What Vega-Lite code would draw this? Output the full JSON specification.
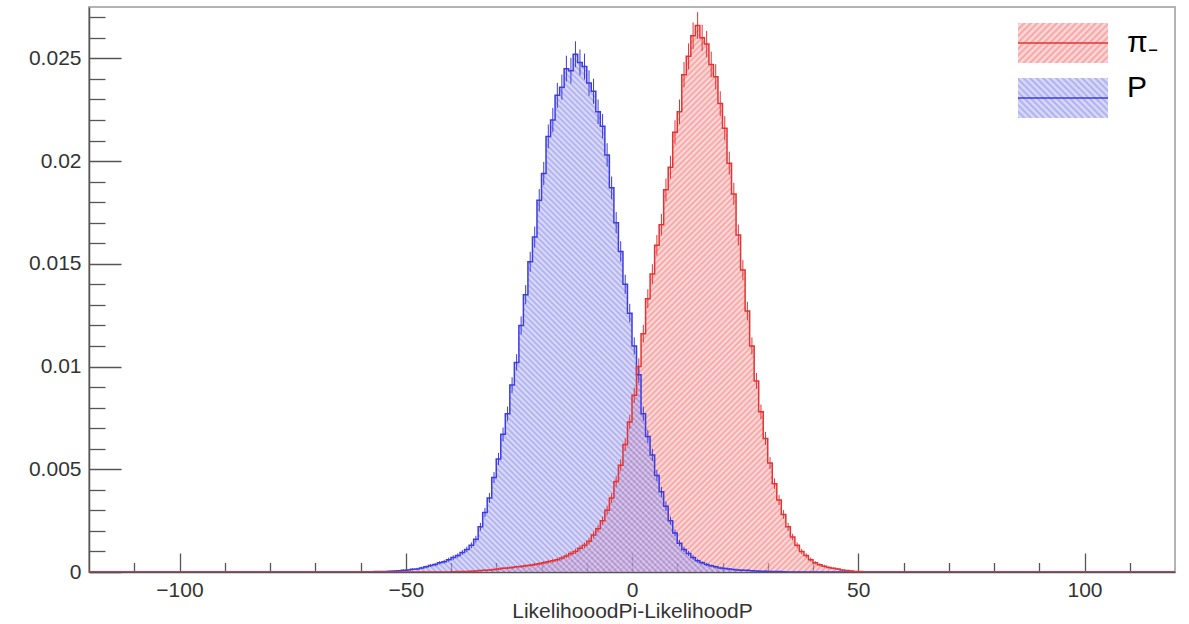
{
  "$schema": "https://vega.github.io/schema/vega-lite/v6.json",
  "width": 1086,
  "height": 565,
  "autosize": {"type": "none"},
  "padding": {"left": 89, "top": 7, "right": 14, "bottom": 52},
  "background": "white",
  "config": {
    "view": {"stroke": "#b4b4b4", "strokeWidth": 2},
    "font": "Liberation Sans"
  },
  "data": {
    "values": [
      {"s":"p","x":-120,"y":0,"e":0},
      {"s":"p","x":-59.5,"y":0,"e":0},
      {"s":"p","x":-58.5,"y":0.00001,"e":0.00001},
      {"s":"p","x":-57.5,"y":0.00001,"e":0.00001},
      {"s":"p","x":-56.5,"y":0.00002,"e":0.00002},
      {"s":"p","x":-55.5,"y":0.00002,"e":0.00002},
      {"s":"p","x":-54.5,"y":0.00003,"e":0.00002},
      {"s":"p","x":-53.5,"y":0.00004,"e":0.00003},
      {"s":"p","x":-52.5,"y":0.00005,"e":0.00003},
      {"s":"p","x":-51.5,"y":0.00006,"e":0.00003},
      {"s":"p","x":-50.5,"y":0.00008,"e":0.00004},
      {"s":"p","x":-49.5,"y":0.0001,"e":0.00004},
      {"s":"p","x":-48.5,"y":0.00013,"e":0.00005},
      {"s":"p","x":-47.5,"y":0.00015,"e":0.00005},
      {"s":"p","x":-46.5,"y":0.0002,"e":0.00006},
      {"s":"p","x":-45.5,"y":0.00025,"e":0.00006},
      {"s":"p","x":-44.5,"y":0.00032,"e":0.00007},
      {"s":"p","x":-43.5,"y":0.00036,"e":0.00008},
      {"s":"p","x":-42.5,"y":0.00045,"e":0.00008},
      {"s":"p","x":-41.5,"y":0.0005,"e":0.00009},
      {"s":"p","x":-40.5,"y":0.0006,"e":0.0001},
      {"s":"p","x":-39.5,"y":0.0007,"e":0.00011},
      {"s":"p","x":-38.5,"y":0.0008,"e":0.00011},
      {"s":"p","x":-37.5,"y":0.00095,"e":0.00012},
      {"s":"p","x":-36.5,"y":0.0011,"e":0.00013},
      {"s":"p","x":-35.5,"y":0.0013,"e":0.00014},
      {"s":"p","x":-34.5,"y":0.0016,"e":0.00016},
      {"s":"p","x":-33.5,"y":0.0022,"e":0.00019},
      {"s":"p","x":-32.5,"y":0.0029,"e":0.00022},
      {"s":"p","x":-31.5,"y":0.0036,"e":0.00024},
      {"s":"p","x":-30.5,"y":0.0046,"e":0.00027},
      {"s":"p","x":-29.5,"y":0.0055,"e":0.0003},
      {"s":"p","x":-28.5,"y":0.0067,"e":0.00033},
      {"s":"p","x":-27.5,"y":0.0077,"e":0.00035},
      {"s":"p","x":-26.5,"y":0.0091,"e":0.00038},
      {"s":"p","x":-25.5,"y":0.0102,"e":0.0004},
      {"s":"p","x":-24.5,"y":0.012,"e":0.00044},
      {"s":"p","x":-23.5,"y":0.0135,"e":0.00046},
      {"s":"p","x":-22.5,"y":0.0151,"e":0.00049},
      {"s":"p","x":-21.5,"y":0.0163,"e":0.00051},
      {"s":"p","x":-20.5,"y":0.0181,"e":0.00054},
      {"s":"p","x":-19.5,"y":0.0194,"e":0.00056},
      {"s":"p","x":-18.5,"y":0.0212,"e":0.00058},
      {"s":"p","x":-17.5,"y":0.022,"e":0.00059},
      {"s":"p","x":-16.5,"y":0.0232,"e":0.00061},
      {"s":"p","x":-15.5,"y":0.0236,"e":0.00061},
      {"s":"p","x":-14.5,"y":0.0245,"e":0.00063},
      {"s":"p","x":-13.5,"y":0.0244,"e":0.00062},
      {"s":"p","x":-12.5,"y":0.0252,"e":0.00063},
      {"s":"p","x":-11.5,"y":0.0248,"e":0.00063},
      {"s":"p","x":-10.5,"y":0.0246,"e":0.00063},
      {"s":"p","x":-9.5,"y":0.0238,"e":0.00062},
      {"s":"p","x":-8.5,"y":0.0234,"e":0.00061},
      {"s":"p","x":-7.5,"y":0.0224,"e":0.0006},
      {"s":"p","x":-6.5,"y":0.0217,"e":0.00059},
      {"s":"p","x":-5.5,"y":0.0203,"e":0.00057},
      {"s":"p","x":-4.5,"y":0.0187,"e":0.00055},
      {"s":"p","x":-3.5,"y":0.017,"e":0.00052},
      {"s":"p","x":-2.5,"y":0.0156,"e":0.0005},
      {"s":"p","x":-1.5,"y":0.014,"e":0.00047},
      {"s":"p","x":-0.5,"y":0.0126,"e":0.00045},
      {"s":"p","x":0.5,"y":0.011,"e":0.00042},
      {"s":"p","x":1.5,"y":0.0096,"e":0.00039},
      {"s":"p","x":2.5,"y":0.0077,"e":0.00035},
      {"s":"p","x":3.5,"y":0.0066,"e":0.00032},
      {"s":"p","x":4.5,"y":0.0057,"e":0.0003},
      {"s":"p","x":5.5,"y":0.0047,"e":0.00027},
      {"s":"p","x":6.5,"y":0.0039,"e":0.00025},
      {"s":"p","x":7.5,"y":0.0032,"e":0.00023},
      {"s":"p","x":8.5,"y":0.0025,"e":0.0002},
      {"s":"p","x":9.5,"y":0.0019,"e":0.00017},
      {"s":"p","x":10.5,"y":0.0014,"e":0.00015},
      {"s":"p","x":11.5,"y":0.0011,"e":0.00013},
      {"s":"p","x":12.5,"y":0.0009,"e":0.00012},
      {"s":"p","x":13.5,"y":0.0007,"e":0.00011},
      {"s":"p","x":14.5,"y":0.00055,"e":0.00009},
      {"s":"p","x":15.5,"y":0.00045,"e":0.00008},
      {"s":"p","x":16.5,"y":0.00037,"e":0.00008},
      {"s":"p","x":17.5,"y":0.0003,"e":0.00007},
      {"s":"p","x":18.5,"y":0.00025,"e":0.00006},
      {"s":"p","x":19.5,"y":0.0002,"e":0.00006},
      {"s":"p","x":20.5,"y":0.00017,"e":0.00005},
      {"s":"p","x":21.5,"y":0.00014,"e":0.00005},
      {"s":"p","x":22.5,"y":0.00012,"e":0.00004},
      {"s":"p","x":23.5,"y":0.0001,"e":0.00004},
      {"s":"p","x":24.5,"y":0.00009,"e":0.00004},
      {"s":"p","x":25.5,"y":0.00008,"e":0.00004},
      {"s":"p","x":26.5,"y":0.00006,"e":0.00003},
      {"s":"p","x":27.5,"y":0.00005,"e":0.00003},
      {"s":"p","x":28.5,"y":0.00004,"e":0.00003},
      {"s":"p","x":29.5,"y":0.00004,"e":0.00003},
      {"s":"p","x":30.5,"y":0.00003,"e":0.00002},
      {"s":"p","x":31.5,"y":0.00002,"e":0.00002},
      {"s":"p","x":32.5,"y":0.00002,"e":0.00002},
      {"s":"p","x":33.5,"y":0.00001,"e":0.00001},
      {"s":"p","x":34.5,"y":0,"e":0},
      {"s":"p","x":120,"y":0,"e":0},

      {"s":"pi","x":-120,"y":0,"e":0},
      {"s":"pi","x":-40.5,"y":0,"e":0},
      {"s":"pi","x":-39.5,"y":0.00001,"e":0.00001},
      {"s":"pi","x":-38.5,"y":0.00002,"e":0.00002},
      {"s":"pi","x":-37.5,"y":0.00002,"e":0.00002},
      {"s":"pi","x":-36.5,"y":0.00003,"e":0.00002},
      {"s":"pi","x":-35.5,"y":0.00004,"e":0.00003},
      {"s":"pi","x":-34.5,"y":0.00005,"e":0.00003},
      {"s":"pi","x":-33.5,"y":0.00007,"e":0.00003},
      {"s":"pi","x":-32.5,"y":0.00009,"e":0.00004},
      {"s":"pi","x":-31.5,"y":0.0001,"e":0.00004},
      {"s":"pi","x":-30.5,"y":0.00012,"e":0.00004},
      {"s":"pi","x":-29.5,"y":0.00015,"e":0.00005},
      {"s":"pi","x":-28.5,"y":0.00018,"e":0.00005},
      {"s":"pi","x":-27.5,"y":0.0002,"e":0.00006},
      {"s":"pi","x":-26.5,"y":0.00022,"e":0.00006},
      {"s":"pi","x":-25.5,"y":0.00025,"e":0.00006},
      {"s":"pi","x":-24.5,"y":0.00027,"e":0.00007},
      {"s":"pi","x":-23.5,"y":0.0003,"e":0.00007},
      {"s":"pi","x":-22.5,"y":0.00033,"e":0.00007},
      {"s":"pi","x":-21.5,"y":0.00037,"e":0.00008},
      {"s":"pi","x":-20.5,"y":0.0004,"e":0.00008},
      {"s":"pi","x":-19.5,"y":0.00045,"e":0.00008},
      {"s":"pi","x":-18.5,"y":0.0005,"e":0.00009},
      {"s":"pi","x":-17.5,"y":0.00055,"e":0.00009},
      {"s":"pi","x":-16.5,"y":0.0006,"e":0.0001},
      {"s":"pi","x":-15.5,"y":0.00068,"e":0.0001},
      {"s":"pi","x":-14.5,"y":0.00078,"e":0.00011},
      {"s":"pi","x":-13.5,"y":0.0009,"e":0.00012},
      {"s":"pi","x":-12.5,"y":0.001,"e":0.00013},
      {"s":"pi","x":-11.5,"y":0.00115,"e":0.00014},
      {"s":"pi","x":-10.5,"y":0.0013,"e":0.00014},
      {"s":"pi","x":-9.5,"y":0.0015,"e":0.00015},
      {"s":"pi","x":-8.5,"y":0.0018,"e":0.00017},
      {"s":"pi","x":-7.5,"y":0.0021,"e":0.00018},
      {"s":"pi","x":-6.5,"y":0.0025,"e":0.0002},
      {"s":"pi","x":-5.5,"y":0.003,"e":0.00022},
      {"s":"pi","x":-4.5,"y":0.0036,"e":0.00024},
      {"s":"pi","x":-3.5,"y":0.0044,"e":0.00027},
      {"s":"pi","x":-2.5,"y":0.0052,"e":0.00029},
      {"s":"pi","x":-1.5,"y":0.0062,"e":0.00031},
      {"s":"pi","x":-0.5,"y":0.0073,"e":0.00034},
      {"s":"pi","x":0.5,"y":0.0086,"e":0.00037},
      {"s":"pi","x":1.5,"y":0.01,"e":0.0004},
      {"s":"pi","x":2.5,"y":0.0116,"e":0.00043},
      {"s":"pi","x":3.5,"y":0.0133,"e":0.00046},
      {"s":"pi","x":4.5,"y":0.0145,"e":0.00048},
      {"s":"pi","x":5.5,"y":0.0159,"e":0.0005},
      {"s":"pi","x":6.5,"y":0.0169,"e":0.00052},
      {"s":"pi","x":7.5,"y":0.0186,"e":0.00055},
      {"s":"pi","x":8.5,"y":0.0197,"e":0.00056},
      {"s":"pi","x":9.5,"y":0.0214,"e":0.00059},
      {"s":"pi","x":10.5,"y":0.0224,"e":0.0006},
      {"s":"pi","x":11.5,"y":0.0242,"e":0.00062},
      {"s":"pi","x":12.5,"y":0.0251,"e":0.00063},
      {"s":"pi","x":13.5,"y":0.0261,"e":0.00065},
      {"s":"pi","x":14.5,"y":0.0266,"e":0.00065},
      {"s":"pi","x":15.5,"y":0.026,"e":0.00064},
      {"s":"pi","x":16.5,"y":0.0257,"e":0.00064},
      {"s":"pi","x":17.5,"y":0.0247,"e":0.00063},
      {"s":"pi","x":18.5,"y":0.0241,"e":0.00062},
      {"s":"pi","x":19.5,"y":0.0228,"e":0.0006},
      {"s":"pi","x":20.5,"y":0.0216,"e":0.00059},
      {"s":"pi","x":21.5,"y":0.0199,"e":0.00056},
      {"s":"pi","x":22.5,"y":0.0184,"e":0.00054},
      {"s":"pi","x":23.5,"y":0.0164,"e":0.00051},
      {"s":"pi","x":24.5,"y":0.0147,"e":0.00048},
      {"s":"pi","x":25.5,"y":0.0127,"e":0.00045},
      {"s":"pi","x":26.5,"y":0.011,"e":0.00042},
      {"s":"pi","x":27.5,"y":0.0093,"e":0.00039},
      {"s":"pi","x":28.5,"y":0.0078,"e":0.00035},
      {"s":"pi","x":29.5,"y":0.0065,"e":0.00032},
      {"s":"pi","x":30.5,"y":0.0053,"e":0.00029},
      {"s":"pi","x":31.5,"y":0.0043,"e":0.00026},
      {"s":"pi","x":32.5,"y":0.0035,"e":0.00024},
      {"s":"pi","x":33.5,"y":0.0028,"e":0.00021},
      {"s":"pi","x":34.5,"y":0.0022,"e":0.00019},
      {"s":"pi","x":35.5,"y":0.0017,"e":0.00016},
      {"s":"pi","x":36.5,"y":0.0013,"e":0.00014},
      {"s":"pi","x":37.5,"y":0.001,"e":0.00013},
      {"s":"pi","x":38.5,"y":0.0008,"e":0.00011},
      {"s":"pi","x":39.5,"y":0.0006,"e":0.0001},
      {"s":"pi","x":40.5,"y":0.00045,"e":0.00008},
      {"s":"pi","x":41.5,"y":0.00035,"e":0.00007},
      {"s":"pi","x":42.5,"y":0.00028,"e":0.00007},
      {"s":"pi","x":43.5,"y":0.00022,"e":0.00006},
      {"s":"pi","x":44.5,"y":0.00018,"e":0.00005},
      {"s":"pi","x":45.5,"y":0.00015,"e":0.00005},
      {"s":"pi","x":46.5,"y":0.0001,"e":0.00004},
      {"s":"pi","x":47.5,"y":0.00007,"e":0.00003},
      {"s":"pi","x":48.5,"y":0.00005,"e":0.00003},
      {"s":"pi","x":49.5,"y":0.00003,"e":0.00002},
      {"s":"pi","x":50.5,"y":0.00002,"e":0.00002},
      {"s":"pi","x":51.5,"y":0,"e":0},
      {"s":"pi","x":120,"y":0,"e":0}
    ]
  },
  "encoding": {
    "x": {
      "field": "x", "type": "quantitative",
      "scale": {"domain": [-120, 120], "nice": false, "zero": false},
      "axis": {
        "values": [-110,-100,-90,-80,-70,-60,-50,-40,-30,-20,-10,0,10,20,30,40,50,60,70,80,90,100,110],
        "labelExpr": "datum.value % 50 === 0 ? format(datum.value, 'd') : ''",
        "ticks": true,
        "tickSize": {"condition": {"test": "datum.value % 50 === 0", "value": -19}, "value": -9.5},
        "labelPadding": 26,
        "labelFont": "Liberation Sans", "labelFontSize": 21, "labelColor": "#333333",
        "labelOverlap": false, "labelFlush": false, "labelBound": false,
        "domainColor": "#555555", "domainWidth": 1.5, "tickColor": "#555555", "tickWidth": 1.3,
        "grid": false,
        "title": "LikelihooodPi-LikelihoodP",
        "titleFont": "Liberation Sans", "titleFontSize": 21, "titleFontWeight": "normal", "titleColor": "#333333", "titlePadding": -9
      }
    },
    "y": {
      "field": "y", "type": "quantitative",
      "scale": {"domain": [0, 0.0275], "nice": false},
      "axis": {
        "values": [0,0.001,0.002,0.003,0.004,0.005,0.006,0.007,0.008,0.009,0.01,0.011,0.012,0.013,0.014,0.015,0.016,0.017,0.018,0.019,0.02,0.021,0.022,0.023,0.024,0.025,0.026,0.027],
        "labelExpr": "round(datum.value * 1000) % 5 === 0 ? format(datum.value, '~g') : ''",
        "ticks": true,
        "tickSize": {"condition": {"test": "round(datum.value * 1000) % 5 === 0", "value": -32}, "value": -16},
        "labelPadding": 40,
        "labelFont": "Liberation Sans", "labelFontSize": 21, "labelColor": "#333333",
        "labelOverlap": false, "labelFlush": false, "labelBound": false,
        "domainColor": "#555555", "domainWidth": 1.5, "tickColor": "#555555", "tickWidth": 1.3,
        "grid": false, "title": null
      }
    }
  },
  "layer": [
    {
      "transform": [{"filter": "datum.s === 'pi' && abs(datum.x) < 100"}],
      "mark": {
        "type": "area", "interpolate": "step", "clip": true, "opacity": 1, "fillOpacity": 0.6,
        "fill": {
          "gradient": "linear", "x1": 0, "y1": 0, "x2": 0.85, "y2": 1.115,
          "stops": [
            {"offset":0,"color":"#e66"},{"offset":0.003,"color":"#fcc"},{"offset":0.006,"color":"#e66"},{"offset":0.009,"color":"#fcc"},{"offset":0.012,"color":"#e66"},{"offset":0.015,"color":"#fcc"},{"offset":0.018,"color":"#e66"},{"offset":0.021,"color":"#fcc"},{"offset":0.024,"color":"#e66"},{"offset":0.027,"color":"#fcc"},
            {"offset":0.03,"color":"#e66"},{"offset":0.033,"color":"#fcc"},{"offset":0.036,"color":"#e66"},{"offset":0.039,"color":"#fcc"},{"offset":0.042,"color":"#e66"},{"offset":0.045,"color":"#fcc"},{"offset":0.048,"color":"#e66"},{"offset":0.051,"color":"#fcc"},{"offset":0.054,"color":"#e66"},{"offset":0.057,"color":"#fcc"},
            {"offset":0.06,"color":"#e66"},{"offset":0.063,"color":"#fcc"},{"offset":0.066,"color":"#e66"},{"offset":0.069,"color":"#fcc"},{"offset":0.072,"color":"#e66"},{"offset":0.075,"color":"#fcc"},{"offset":0.078,"color":"#e66"},{"offset":0.081,"color":"#fcc"},{"offset":0.084,"color":"#e66"},{"offset":0.087,"color":"#fcc"},
            {"offset":0.09,"color":"#e66"},{"offset":0.093,"color":"#fcc"},{"offset":0.096,"color":"#e66"},{"offset":0.099,"color":"#fcc"},{"offset":0.102,"color":"#e66"},{"offset":0.105,"color":"#fcc"},{"offset":0.108,"color":"#e66"},{"offset":0.111,"color":"#fcc"},{"offset":0.114,"color":"#e66"},{"offset":0.117,"color":"#fcc"},
            {"offset":0.12,"color":"#e66"},{"offset":0.123,"color":"#fcc"},{"offset":0.126,"color":"#e66"},{"offset":0.129,"color":"#fcc"},{"offset":0.132,"color":"#e66"},{"offset":0.135,"color":"#fcc"},{"offset":0.138,"color":"#e66"},{"offset":0.141,"color":"#fcc"},{"offset":0.144,"color":"#e66"},{"offset":0.147,"color":"#fcc"},
            {"offset":0.15,"color":"#e66"},{"offset":0.153,"color":"#fcc"},{"offset":0.156,"color":"#e66"},{"offset":0.159,"color":"#fcc"},{"offset":0.162,"color":"#e66"},{"offset":0.165,"color":"#fcc"},{"offset":0.168,"color":"#e66"},{"offset":0.171,"color":"#fcc"},{"offset":0.174,"color":"#e66"},{"offset":0.177,"color":"#fcc"},
            {"offset":0.18,"color":"#e66"},{"offset":0.183,"color":"#fcc"},{"offset":0.186,"color":"#e66"},{"offset":0.189,"color":"#fcc"},{"offset":0.192,"color":"#e66"},{"offset":0.195,"color":"#fcc"},{"offset":0.198,"color":"#e66"},{"offset":0.201,"color":"#fcc"},{"offset":0.204,"color":"#e66"},{"offset":0.207,"color":"#fcc"},
            {"offset":0.21,"color":"#e66"},{"offset":0.213,"color":"#fcc"},{"offset":0.216,"color":"#e66"},{"offset":0.219,"color":"#fcc"},{"offset":0.222,"color":"#e66"},{"offset":0.225,"color":"#fcc"},{"offset":0.228,"color":"#e66"},{"offset":0.231,"color":"#fcc"},{"offset":0.234,"color":"#e66"},{"offset":0.237,"color":"#fcc"},
            {"offset":0.24,"color":"#e66"},{"offset":0.243,"color":"#fcc"},{"offset":0.246,"color":"#e66"},{"offset":0.249,"color":"#fcc"},{"offset":0.252,"color":"#e66"},{"offset":0.255,"color":"#fcc"},{"offset":0.258,"color":"#e66"},{"offset":0.261,"color":"#fcc"},{"offset":0.264,"color":"#e66"},{"offset":0.267,"color":"#fcc"},
            {"offset":0.27,"color":"#e66"},{"offset":0.273,"color":"#fcc"},{"offset":0.276,"color":"#e66"},{"offset":0.279,"color":"#fcc"},{"offset":0.282,"color":"#e66"},{"offset":0.285,"color":"#fcc"},{"offset":0.288,"color":"#e66"},{"offset":0.291,"color":"#fcc"},{"offset":0.294,"color":"#e66"},{"offset":0.297,"color":"#fcc"},
            {"offset":0.3,"color":"#e66"},{"offset":0.303,"color":"#fcc"},{"offset":0.306,"color":"#e66"},{"offset":0.309,"color":"#fcc"},{"offset":0.312,"color":"#e66"},{"offset":0.315,"color":"#fcc"},{"offset":0.318,"color":"#e66"},{"offset":0.321,"color":"#fcc"},{"offset":0.324,"color":"#e66"},{"offset":0.327,"color":"#fcc"},
            {"offset":0.33,"color":"#e66"},{"offset":0.333,"color":"#fcc"},{"offset":0.336,"color":"#e66"},{"offset":0.339,"color":"#fcc"},{"offset":0.342,"color":"#e66"},{"offset":0.345,"color":"#fcc"},{"offset":0.348,"color":"#e66"},{"offset":0.351,"color":"#fcc"},{"offset":0.354,"color":"#e66"},{"offset":0.357,"color":"#fcc"},
            {"offset":0.36,"color":"#e66"},{"offset":0.363,"color":"#fcc"},{"offset":0.366,"color":"#e66"},{"offset":0.369,"color":"#fcc"},{"offset":0.372,"color":"#e66"},{"offset":0.375,"color":"#fcc"},{"offset":0.378,"color":"#e66"},{"offset":0.381,"color":"#fcc"},{"offset":0.384,"color":"#e66"},{"offset":0.387,"color":"#fcc"},
            {"offset":0.39,"color":"#e66"},{"offset":0.393,"color":"#fcc"},{"offset":0.396,"color":"#e66"},{"offset":0.399,"color":"#fcc"},{"offset":0.402,"color":"#e66"},{"offset":0.405,"color":"#fcc"},{"offset":0.408,"color":"#e66"},{"offset":0.411,"color":"#fcc"},{"offset":0.414,"color":"#e66"},{"offset":0.417,"color":"#fcc"},
            {"offset":0.42,"color":"#e66"},{"offset":0.423,"color":"#fcc"},{"offset":0.426,"color":"#e66"},{"offset":0.429,"color":"#fcc"},{"offset":0.432,"color":"#e66"},{"offset":0.435,"color":"#fcc"},{"offset":0.438,"color":"#e66"},{"offset":0.441,"color":"#fcc"},{"offset":0.444,"color":"#e66"},{"offset":0.447,"color":"#fcc"},
            {"offset":0.45,"color":"#e66"},{"offset":0.453,"color":"#fcc"},{"offset":0.456,"color":"#e66"},{"offset":0.459,"color":"#fcc"},{"offset":0.462,"color":"#e66"},{"offset":0.465,"color":"#fcc"},{"offset":0.468,"color":"#e66"},{"offset":0.471,"color":"#fcc"},{"offset":0.474,"color":"#e66"},{"offset":0.477,"color":"#fcc"},
            {"offset":0.48,"color":"#e66"},{"offset":0.483,"color":"#fcc"},{"offset":0.486,"color":"#e66"},{"offset":0.489,"color":"#fcc"},{"offset":0.492,"color":"#e66"},{"offset":0.495,"color":"#fcc"},{"offset":0.498,"color":"#e66"},{"offset":0.501,"color":"#fcc"},{"offset":0.504,"color":"#e66"},{"offset":0.507,"color":"#fcc"},
            {"offset":0.51,"color":"#e66"},{"offset":0.513,"color":"#fcc"},{"offset":0.516,"color":"#e66"},{"offset":0.519,"color":"#fcc"},{"offset":0.522,"color":"#e66"},{"offset":0.525,"color":"#fcc"},{"offset":0.528,"color":"#e66"},{"offset":0.531,"color":"#fcc"},{"offset":0.534,"color":"#e66"},{"offset":0.537,"color":"#fcc"},
            {"offset":0.54,"color":"#e66"},{"offset":0.543,"color":"#fcc"},{"offset":0.546,"color":"#e66"},{"offset":0.549,"color":"#fcc"},{"offset":0.552,"color":"#e66"},{"offset":0.555,"color":"#fcc"},{"offset":0.558,"color":"#e66"},{"offset":0.561,"color":"#fcc"},{"offset":0.564,"color":"#e66"},{"offset":0.567,"color":"#fcc"},
            {"offset":0.57,"color":"#e66"},{"offset":0.573,"color":"#fcc"},{"offset":0.576,"color":"#e66"},{"offset":0.579,"color":"#fcc"},{"offset":0.582,"color":"#e66"},{"offset":0.585,"color":"#fcc"},{"offset":0.588,"color":"#e66"},{"offset":0.591,"color":"#fcc"},{"offset":0.594,"color":"#e66"},{"offset":0.597,"color":"#fcc"},
            {"offset":0.6,"color":"#e66"},{"offset":0.603,"color":"#fcc"},{"offset":0.606,"color":"#e66"},{"offset":0.609,"color":"#fcc"},{"offset":0.612,"color":"#e66"},{"offset":0.615,"color":"#fcc"},{"offset":0.618,"color":"#e66"},{"offset":0.621,"color":"#fcc"},{"offset":0.624,"color":"#e66"},{"offset":0.627,"color":"#fcc"},
            {"offset":0.63,"color":"#e66"},{"offset":0.633,"color":"#fcc"},{"offset":0.636,"color":"#e66"},{"offset":0.639,"color":"#fcc"},{"offset":0.642,"color":"#e66"},{"offset":0.645,"color":"#fcc"},{"offset":0.648,"color":"#e66"},{"offset":0.651,"color":"#fcc"},{"offset":0.654,"color":"#e66"},{"offset":0.657,"color":"#fcc"},
            {"offset":0.66,"color":"#e66"},{"offset":0.663,"color":"#fcc"},{"offset":0.666,"color":"#e66"},{"offset":0.669,"color":"#fcc"},{"offset":0.672,"color":"#e66"},{"offset":0.675,"color":"#fcc"},{"offset":0.678,"color":"#e66"},{"offset":0.681,"color":"#fcc"},{"offset":0.684,"color":"#e66"},{"offset":0.687,"color":"#fcc"},
            {"offset":0.69,"color":"#e66"},{"offset":0.693,"color":"#fcc"},{"offset":0.696,"color":"#e66"},{"offset":0.699,"color":"#fcc"},{"offset":0.702,"color":"#e66"},{"offset":0.705,"color":"#fcc"},{"offset":0.708,"color":"#e66"},{"offset":0.711,"color":"#fcc"},{"offset":0.714,"color":"#e66"},{"offset":0.717,"color":"#fcc"},
            {"offset":0.72,"color":"#e66"},{"offset":0.723,"color":"#fcc"},{"offset":0.726,"color":"#e66"},{"offset":0.729,"color":"#fcc"},{"offset":0.732,"color":"#e66"},{"offset":0.735,"color":"#fcc"},{"offset":0.738,"color":"#e66"},{"offset":0.741,"color":"#fcc"},{"offset":0.744,"color":"#e66"},{"offset":0.747,"color":"#fcc"},
            {"offset":0.75,"color":"#e66"},{"offset":0.753,"color":"#fcc"},{"offset":0.756,"color":"#e66"},{"offset":0.759,"color":"#fcc"},{"offset":0.762,"color":"#e66"},{"offset":0.765,"color":"#fcc"},{"offset":0.768,"color":"#e66"},{"offset":0.771,"color":"#fcc"},{"offset":0.774,"color":"#e66"},{"offset":0.777,"color":"#fcc"},
            {"offset":0.78,"color":"#e66"},{"offset":0.783,"color":"#fcc"},{"offset":0.786,"color":"#e66"},{"offset":0.789,"color":"#fcc"},{"offset":0.792,"color":"#e66"},{"offset":0.795,"color":"#fcc"},{"offset":0.798,"color":"#e66"},{"offset":0.801,"color":"#fcc"},{"offset":0.804,"color":"#e66"},{"offset":0.807,"color":"#fcc"},
            {"offset":0.81,"color":"#e66"},{"offset":0.813,"color":"#fcc"},{"offset":0.816,"color":"#e66"},{"offset":0.819,"color":"#fcc"},{"offset":0.822,"color":"#e66"},{"offset":0.825,"color":"#fcc"},{"offset":0.828,"color":"#e66"},{"offset":0.831,"color":"#fcc"},{"offset":0.834,"color":"#e66"},{"offset":0.837,"color":"#fcc"},
            {"offset":0.84,"color":"#e66"},{"offset":0.843,"color":"#fcc"},{"offset":0.846,"color":"#e66"},{"offset":0.849,"color":"#fcc"},{"offset":0.852,"color":"#e66"},{"offset":0.855,"color":"#fcc"},{"offset":0.858,"color":"#e66"},{"offset":0.861,"color":"#fcc"},{"offset":0.864,"color":"#e66"},{"offset":0.867,"color":"#fcc"},
            {"offset":0.87,"color":"#e66"},{"offset":0.873,"color":"#fcc"},{"offset":0.876,"color":"#e66"},{"offset":0.879,"color":"#fcc"},{"offset":0.882,"color":"#e66"},{"offset":0.885,"color":"#fcc"},{"offset":0.888,"color":"#e66"},{"offset":0.891,"color":"#fcc"},{"offset":0.894,"color":"#e66"},{"offset":0.897,"color":"#fcc"},
            {"offset":0.9,"color":"#e66"},{"offset":0.903,"color":"#fcc"},{"offset":0.906,"color":"#e66"},{"offset":0.909,"color":"#fcc"},{"offset":0.912,"color":"#e66"},{"offset":0.915,"color":"#fcc"},{"offset":0.918,"color":"#e66"},{"offset":0.921,"color":"#fcc"},{"offset":0.924,"color":"#e66"},{"offset":0.927,"color":"#fcc"},
            {"offset":0.93,"color":"#e66"},{"offset":0.933,"color":"#fcc"},{"offset":0.936,"color":"#e66"},{"offset":0.939,"color":"#fcc"},{"offset":0.942,"color":"#e66"},{"offset":0.945,"color":"#fcc"},{"offset":0.948,"color":"#e66"},{"offset":0.951,"color":"#fcc"},{"offset":0.954,"color":"#e66"},{"offset":0.957,"color":"#fcc"},
            {"offset":0.96,"color":"#e66"},{"offset":0.963,"color":"#fcc"},{"offset":0.966,"color":"#e66"},{"offset":0.969,"color":"#fcc"},{"offset":0.972,"color":"#e66"},{"offset":0.975,"color":"#fcc"},{"offset":0.978,"color":"#e66"},{"offset":0.981,"color":"#fcc"},{"offset":0.984,"color":"#e66"},{"offset":0.987,"color":"#fcc"},
            {"offset":0.99,"color":"#e66"},{"offset":0.993,"color":"#fcc"},{"offset":0.996,"color":"#e66"},{"offset":0.999,"color":"#fcc"},{"offset":1,"color":"#e66"}
          ]
        }
      }
    },
    {
      "transform": [{"filter": "datum.s === 'p' && abs(datum.x) < 100"}],
      "mark": {
        "type": "area", "interpolate": "step", "clip": true, "opacity": 1, "fillOpacity": 0.6,
        "fill": {
          "gradient": "linear", "x1": 0, "y1": 1, "x2": 0.894, "y2": -0.087,
          "stops": [
            {"offset":0,"color":"#77d"},{"offset":0.003,"color":"#ccf"},{"offset":0.006,"color":"#77d"},{"offset":0.009,"color":"#ccf"},{"offset":0.012,"color":"#77d"},{"offset":0.015,"color":"#ccf"},{"offset":0.018,"color":"#77d"},{"offset":0.021,"color":"#ccf"},{"offset":0.024,"color":"#77d"},{"offset":0.027,"color":"#ccf"},
            {"offset":0.03,"color":"#77d"},{"offset":0.033,"color":"#ccf"},{"offset":0.036,"color":"#77d"},{"offset":0.039,"color":"#ccf"},{"offset":0.042,"color":"#77d"},{"offset":0.045,"color":"#ccf"},{"offset":0.048,"color":"#77d"},{"offset":0.051,"color":"#ccf"},{"offset":0.054,"color":"#77d"},{"offset":0.057,"color":"#ccf"},
            {"offset":0.06,"color":"#77d"},{"offset":0.063,"color":"#ccf"},{"offset":0.066,"color":"#77d"},{"offset":0.069,"color":"#ccf"},{"offset":0.072,"color":"#77d"},{"offset":0.075,"color":"#ccf"},{"offset":0.078,"color":"#77d"},{"offset":0.081,"color":"#ccf"},{"offset":0.084,"color":"#77d"},{"offset":0.087,"color":"#ccf"},
            {"offset":0.09,"color":"#77d"},{"offset":0.093,"color":"#ccf"},{"offset":0.096,"color":"#77d"},{"offset":0.099,"color":"#ccf"},{"offset":0.102,"color":"#77d"},{"offset":0.105,"color":"#ccf"},{"offset":0.108,"color":"#77d"},{"offset":0.111,"color":"#ccf"},{"offset":0.114,"color":"#77d"},{"offset":0.117,"color":"#ccf"},
            {"offset":0.12,"color":"#77d"},{"offset":0.123,"color":"#ccf"},{"offset":0.126,"color":"#77d"},{"offset":0.129,"color":"#ccf"},{"offset":0.132,"color":"#77d"},{"offset":0.135,"color":"#ccf"},{"offset":0.138,"color":"#77d"},{"offset":0.141,"color":"#ccf"},{"offset":0.144,"color":"#77d"},{"offset":0.147,"color":"#ccf"},
            {"offset":0.15,"color":"#77d"},{"offset":0.153,"color":"#ccf"},{"offset":0.156,"color":"#77d"},{"offset":0.159,"color":"#ccf"},{"offset":0.162,"color":"#77d"},{"offset":0.165,"color":"#ccf"},{"offset":0.168,"color":"#77d"},{"offset":0.171,"color":"#ccf"},{"offset":0.174,"color":"#77d"},{"offset":0.177,"color":"#ccf"},
            {"offset":0.18,"color":"#77d"},{"offset":0.183,"color":"#ccf"},{"offset":0.186,"color":"#77d"},{"offset":0.189,"color":"#ccf"},{"offset":0.192,"color":"#77d"},{"offset":0.195,"color":"#ccf"},{"offset":0.198,"color":"#77d"},{"offset":0.201,"color":"#ccf"},{"offset":0.204,"color":"#77d"},{"offset":0.207,"color":"#ccf"},
            {"offset":0.21,"color":"#77d"},{"offset":0.213,"color":"#ccf"},{"offset":0.216,"color":"#77d"},{"offset":0.219,"color":"#ccf"},{"offset":0.222,"color":"#77d"},{"offset":0.225,"color":"#ccf"},{"offset":0.228,"color":"#77d"},{"offset":0.231,"color":"#ccf"},{"offset":0.234,"color":"#77d"},{"offset":0.237,"color":"#ccf"},
            {"offset":0.24,"color":"#77d"},{"offset":0.243,"color":"#ccf"},{"offset":0.246,"color":"#77d"},{"offset":0.249,"color":"#ccf"},{"offset":0.252,"color":"#77d"},{"offset":0.255,"color":"#ccf"},{"offset":0.258,"color":"#77d"},{"offset":0.261,"color":"#ccf"},{"offset":0.264,"color":"#77d"},{"offset":0.267,"color":"#ccf"},
            {"offset":0.27,"color":"#77d"},{"offset":0.273,"color":"#ccf"},{"offset":0.276,"color":"#77d"},{"offset":0.279,"color":"#ccf"},{"offset":0.282,"color":"#77d"},{"offset":0.285,"color":"#ccf"},{"offset":0.288,"color":"#77d"},{"offset":0.291,"color":"#ccf"},{"offset":0.294,"color":"#77d"},{"offset":0.297,"color":"#ccf"},
            {"offset":0.3,"color":"#77d"},{"offset":0.303,"color":"#ccf"},{"offset":0.306,"color":"#77d"},{"offset":0.309,"color":"#ccf"},{"offset":0.312,"color":"#77d"},{"offset":0.315,"color":"#ccf"},{"offset":0.318,"color":"#77d"},{"offset":0.321,"color":"#ccf"},{"offset":0.324,"color":"#77d"},{"offset":0.327,"color":"#ccf"},
            {"offset":0.33,"color":"#77d"},{"offset":0.333,"color":"#ccf"},{"offset":0.336,"color":"#77d"},{"offset":0.339,"color":"#ccf"},{"offset":0.342,"color":"#77d"},{"offset":0.345,"color":"#ccf"},{"offset":0.348,"color":"#77d"},{"offset":0.351,"color":"#ccf"},{"offset":0.354,"color":"#77d"},{"offset":0.357,"color":"#ccf"},
            {"offset":0.36,"color":"#77d"},{"offset":0.363,"color":"#ccf"},{"offset":0.366,"color":"#77d"},{"offset":0.369,"color":"#ccf"},{"offset":0.372,"color":"#77d"},{"offset":0.375,"color":"#ccf"},{"offset":0.378,"color":"#77d"},{"offset":0.381,"color":"#ccf"},{"offset":0.384,"color":"#77d"},{"offset":0.387,"color":"#ccf"},
            {"offset":0.39,"color":"#77d"},{"offset":0.393,"color":"#ccf"},{"offset":0.396,"color":"#77d"},{"offset":0.399,"color":"#ccf"},{"offset":0.402,"color":"#77d"},{"offset":0.405,"color":"#ccf"},{"offset":0.408,"color":"#77d"},{"offset":0.411,"color":"#ccf"},{"offset":0.414,"color":"#77d"},{"offset":0.417,"color":"#ccf"},
            {"offset":0.42,"color":"#77d"},{"offset":0.423,"color":"#ccf"},{"offset":0.426,"color":"#77d"},{"offset":0.429,"color":"#ccf"},{"offset":0.432,"color":"#77d"},{"offset":0.435,"color":"#ccf"},{"offset":0.438,"color":"#77d"},{"offset":0.441,"color":"#ccf"},{"offset":0.444,"color":"#77d"},{"offset":0.447,"color":"#ccf"},
            {"offset":0.45,"color":"#77d"},{"offset":0.453,"color":"#ccf"},{"offset":0.456,"color":"#77d"},{"offset":0.459,"color":"#ccf"},{"offset":0.462,"color":"#77d"},{"offset":0.465,"color":"#ccf"},{"offset":0.468,"color":"#77d"},{"offset":0.471,"color":"#ccf"},{"offset":0.474,"color":"#77d"},{"offset":0.477,"color":"#ccf"},
            {"offset":0.48,"color":"#77d"},{"offset":0.483,"color":"#ccf"},{"offset":0.486,"color":"#77d"},{"offset":0.489,"color":"#ccf"},{"offset":0.492,"color":"#77d"},{"offset":0.495,"color":"#ccf"},{"offset":0.498,"color":"#77d"},{"offset":0.501,"color":"#ccf"},{"offset":0.504,"color":"#77d"},{"offset":0.507,"color":"#ccf"},
            {"offset":0.51,"color":"#77d"},{"offset":0.513,"color":"#ccf"},{"offset":0.516,"color":"#77d"},{"offset":0.519,"color":"#ccf"},{"offset":0.522,"color":"#77d"},{"offset":0.525,"color":"#ccf"},{"offset":0.528,"color":"#77d"},{"offset":0.531,"color":"#ccf"},{"offset":0.534,"color":"#77d"},{"offset":0.537,"color":"#ccf"},
            {"offset":0.54,"color":"#77d"},{"offset":0.543,"color":"#ccf"},{"offset":0.546,"color":"#77d"},{"offset":0.549,"color":"#ccf"},{"offset":0.552,"color":"#77d"},{"offset":0.555,"color":"#ccf"},{"offset":0.558,"color":"#77d"},{"offset":0.561,"color":"#ccf"},{"offset":0.564,"color":"#77d"},{"offset":0.567,"color":"#ccf"},
            {"offset":0.57,"color":"#77d"},{"offset":0.573,"color":"#ccf"},{"offset":0.576,"color":"#77d"},{"offset":0.579,"color":"#ccf"},{"offset":0.582,"color":"#77d"},{"offset":0.585,"color":"#ccf"},{"offset":0.588,"color":"#77d"},{"offset":0.591,"color":"#ccf"},{"offset":0.594,"color":"#77d"},{"offset":0.597,"color":"#ccf"},
            {"offset":0.6,"color":"#77d"},{"offset":0.603,"color":"#ccf"},{"offset":0.606,"color":"#77d"},{"offset":0.609,"color":"#ccf"},{"offset":0.612,"color":"#77d"},{"offset":0.615,"color":"#ccf"},{"offset":0.618,"color":"#77d"},{"offset":0.621,"color":"#ccf"},{"offset":0.624,"color":"#77d"},{"offset":0.627,"color":"#ccf"},
            {"offset":0.63,"color":"#77d"},{"offset":0.633,"color":"#ccf"},{"offset":0.636,"color":"#77d"},{"offset":0.639,"color":"#ccf"},{"offset":0.642,"color":"#77d"},{"offset":0.645,"color":"#ccf"},{"offset":0.648,"color":"#77d"},{"offset":0.651,"color":"#ccf"},{"offset":0.654,"color":"#77d"},{"offset":0.657,"color":"#ccf"},
            {"offset":0.66,"color":"#77d"},{"offset":0.663,"color":"#ccf"},{"offset":0.666,"color":"#77d"},{"offset":0.669,"color":"#ccf"},{"offset":0.672,"color":"#77d"},{"offset":0.675,"color":"#ccf"},{"offset":0.678,"color":"#77d"},{"offset":0.681,"color":"#ccf"},{"offset":0.684,"color":"#77d"},{"offset":0.687,"color":"#ccf"},
            {"offset":0.69,"color":"#77d"},{"offset":0.693,"color":"#ccf"},{"offset":0.696,"color":"#77d"},{"offset":0.699,"color":"#ccf"},{"offset":0.702,"color":"#77d"},{"offset":0.705,"color":"#ccf"},{"offset":0.708,"color":"#77d"},{"offset":0.711,"color":"#ccf"},{"offset":0.714,"color":"#77d"},{"offset":0.717,"color":"#ccf"},
            {"offset":0.72,"color":"#77d"},{"offset":0.723,"color":"#ccf"},{"offset":0.726,"color":"#77d"},{"offset":0.729,"color":"#ccf"},{"offset":0.732,"color":"#77d"},{"offset":0.735,"color":"#ccf"},{"offset":0.738,"color":"#77d"},{"offset":0.741,"color":"#ccf"},{"offset":0.744,"color":"#77d"},{"offset":0.747,"color":"#ccf"},
            {"offset":0.75,"color":"#77d"},{"offset":0.753,"color":"#ccf"},{"offset":0.756,"color":"#77d"},{"offset":0.759,"color":"#ccf"},{"offset":0.762,"color":"#77d"},{"offset":0.765,"color":"#ccf"},{"offset":0.768,"color":"#77d"},{"offset":0.771,"color":"#ccf"},{"offset":0.774,"color":"#77d"},{"offset":0.777,"color":"#ccf"},
            {"offset":0.78,"color":"#77d"},{"offset":0.783,"color":"#ccf"},{"offset":0.786,"color":"#77d"},{"offset":0.789,"color":"#ccf"},{"offset":0.792,"color":"#77d"},{"offset":0.795,"color":"#ccf"},{"offset":0.798,"color":"#77d"},{"offset":0.801,"color":"#ccf"},{"offset":0.804,"color":"#77d"},{"offset":0.807,"color":"#ccf"},
            {"offset":0.81,"color":"#77d"},{"offset":0.813,"color":"#ccf"},{"offset":0.816,"color":"#77d"},{"offset":0.819,"color":"#ccf"},{"offset":0.822,"color":"#77d"},{"offset":0.825,"color":"#ccf"},{"offset":0.828,"color":"#77d"},{"offset":0.831,"color":"#ccf"},{"offset":0.834,"color":"#77d"},{"offset":0.837,"color":"#ccf"},
            {"offset":0.84,"color":"#77d"},{"offset":0.843,"color":"#ccf"},{"offset":0.846,"color":"#77d"},{"offset":0.849,"color":"#ccf"},{"offset":0.852,"color":"#77d"},{"offset":0.855,"color":"#ccf"},{"offset":0.858,"color":"#77d"},{"offset":0.861,"color":"#ccf"},{"offset":0.864,"color":"#77d"},{"offset":0.867,"color":"#ccf"},
            {"offset":0.87,"color":"#77d"},{"offset":0.873,"color":"#ccf"},{"offset":0.876,"color":"#77d"},{"offset":0.879,"color":"#ccf"},{"offset":0.882,"color":"#77d"},{"offset":0.885,"color":"#ccf"},{"offset":0.888,"color":"#77d"},{"offset":0.891,"color":"#ccf"},{"offset":0.894,"color":"#77d"},{"offset":0.897,"color":"#ccf"},
            {"offset":0.9,"color":"#77d"},{"offset":0.903,"color":"#ccf"},{"offset":0.906,"color":"#77d"},{"offset":0.909,"color":"#ccf"},{"offset":0.912,"color":"#77d"},{"offset":0.915,"color":"#ccf"},{"offset":0.918,"color":"#77d"},{"offset":0.921,"color":"#ccf"},{"offset":0.924,"color":"#77d"},{"offset":0.927,"color":"#ccf"},
            {"offset":0.93,"color":"#77d"},{"offset":0.933,"color":"#ccf"},{"offset":0.936,"color":"#77d"},{"offset":0.939,"color":"#ccf"},{"offset":0.942,"color":"#77d"},{"offset":0.945,"color":"#ccf"},{"offset":0.948,"color":"#77d"},{"offset":0.951,"color":"#ccf"},{"offset":0.954,"color":"#77d"},{"offset":0.957,"color":"#ccf"},
            {"offset":0.96,"color":"#77d"},{"offset":0.963,"color":"#ccf"},{"offset":0.966,"color":"#77d"},{"offset":0.969,"color":"#ccf"},{"offset":0.972,"color":"#77d"},{"offset":0.975,"color":"#ccf"},{"offset":0.978,"color":"#77d"},{"offset":0.981,"color":"#ccf"},{"offset":0.984,"color":"#77d"},{"offset":0.987,"color":"#ccf"},
            {"offset":0.99,"color":"#77d"},{"offset":0.993,"color":"#ccf"},{"offset":0.996,"color":"#77d"},{"offset":0.999,"color":"#ccf"},{"offset":1,"color":"#77d"}
          ]
        }
      }
    },
    {
      "transform": [{"filter": "datum.s === 'pi' && datum.y > 0"}],
      "mark": {"type": "errorbar", "color": "#e23434", "thickness": 1},
      "encoding": {"yError": {"field": "e"}}
    },
    {
      "transform": [{"filter": "datum.s === 'p' && datum.y > 0"}],
      "mark": {"type": "errorbar", "color": "#3c3ce0", "thickness": 1},
      "encoding": {"yError": {"field": "e"}}
    },
    {
      "transform": [{"filter": "datum.s === 'p'"}],
      "mark": {"type": "line", "interpolate": "step", "strokeWidth": 1.5, "clip": true},
      "encoding": {
        "color": {
          "field": "s", "type": "nominal",
          "scale": {"domain": ["pi", "p"], "range": ["#e23434", "#3c3ce0"]},
          "legend": {
            "title": null, "orient": "none", "legendX": 953, "legendY": 15, "padding": 0,
            "symbolType": "M-2.25,0H2.25V-1H-2.25V1H2.25V0Z",
            "symbolSize": 1600, "symbolStrokeWidth": 1.5, "symbolDash": [90, 2000],
            "labelFont": "Liberation Sans", "labelFontSize": 30, "labelColor": "#000000",
            "labelOffset": 43, "rowPadding": 7,
            "labelExpr": "datum.value === 'pi' ? 'π₋' : 'P'",
            "encode": {
              "symbols": {
                "update": {
                  "fillOpacity": {"value": 0.6},
                  "fill": {"signal": "datum.value === 'p' ? {gradient:'linear',x1:0,y1:1,x2:1.206,y2:0.464,stops:[{offset:0,color:'#77d'},{offset:0.025,color:'#ccf'},{offset:0.05,color:'#77d'},{offset:0.075,color:'#ccf'},{offset:0.1,color:'#77d'},{offset:0.125,color:'#ccf'},{offset:0.15,color:'#77d'},{offset:0.175,color:'#ccf'},{offset:0.2,color:'#77d'},{offset:0.225,color:'#ccf'},{offset:0.25,color:'#77d'},{offset:0.275,color:'#ccf'},{offset:0.3,color:'#77d'},{offset:0.325,color:'#ccf'},{offset:0.35,color:'#77d'},{offset:0.375,color:'#ccf'},{offset:0.4,color:'#77d'},{offset:0.425,color:'#ccf'},{offset:0.45,color:'#77d'},{offset:0.475,color:'#ccf'},{offset:0.5,color:'#77d'},{offset:0.525,color:'#ccf'},{offset:0.55,color:'#77d'},{offset:0.575,color:'#ccf'},{offset:0.6,color:'#77d'},{offset:0.625,color:'#ccf'},{offset:0.65,color:'#77d'},{offset:0.675,color:'#ccf'},{offset:0.7,color:'#77d'},{offset:0.725,color:'#ccf'},{offset:0.75,color:'#77d'},{offset:0.775,color:'#ccf'},{offset:0.8,color:'#77d'},{offset:0.825,color:'#ccf'},{offset:0.85,color:'#77d'},{offset:0.875,color:'#ccf'},{offset:0.9,color:'#77d'},{offset:0.925,color:'#ccf'},{offset:0.95,color:'#77d'},{offset:0.975,color:'#ccf'},{offset:1,color:'#77d'}]} : {gradient:'linear',x1:0,y1:0,x2:1.206,y2:0.536,stops:[{offset:0,color:'#e66'},{offset:0.025,color:'#fcc'},{offset:0.05,color:'#e66'},{offset:0.075,color:'#fcc'},{offset:0.1,color:'#e66'},{offset:0.125,color:'#fcc'},{offset:0.15,color:'#e66'},{offset:0.175,color:'#fcc'},{offset:0.2,color:'#e66'},{offset:0.225,color:'#fcc'},{offset:0.25,color:'#e66'},{offset:0.275,color:'#fcc'},{offset:0.3,color:'#e66'},{offset:0.325,color:'#fcc'},{offset:0.35,color:'#e66'},{offset:0.375,color:'#fcc'},{offset:0.4,color:'#e66'},{offset:0.425,color:'#fcc'},{offset:0.45,color:'#e66'},{offset:0.475,color:'#fcc'},{offset:0.5,color:'#e66'},{offset:0.525,color:'#fcc'},{offset:0.55,color:'#e66'},{offset:0.575,color:'#fcc'},{offset:0.6,color:'#e66'},{offset:0.625,color:'#fcc'},{offset:0.65,color:'#e66'},{offset:0.675,color:'#fcc'},{offset:0.7,color:'#e66'},{offset:0.725,color:'#fcc'},{offset:0.75,color:'#e66'},{offset:0.775,color:'#fcc'},{offset:0.8,color:'#e66'},{offset:0.825,color:'#fcc'},{offset:0.85,color:'#e66'},{offset:0.875,color:'#fcc'},{offset:0.9,color:'#e66'},{offset:0.925,color:'#fcc'},{offset:0.95,color:'#e66'},{offset:0.975,color:'#fcc'},{offset:1,color:'#e66'}]}"}
                }
              },
              "labels": {
                "update": {"dy": {"signal": "datum.value === 'p' ? -10 : 0"}}
              }
            }
          }
        }
      }
    },
    {
      "transform": [{"filter": "datum.s === 'pi'"}],
      "mark": {"type": "line", "interpolate": "step", "strokeWidth": 1.5, "clip": true},
      "encoding": {
        "color": {"field": "s", "type": "nominal"}
      }
    }
  ]
}
